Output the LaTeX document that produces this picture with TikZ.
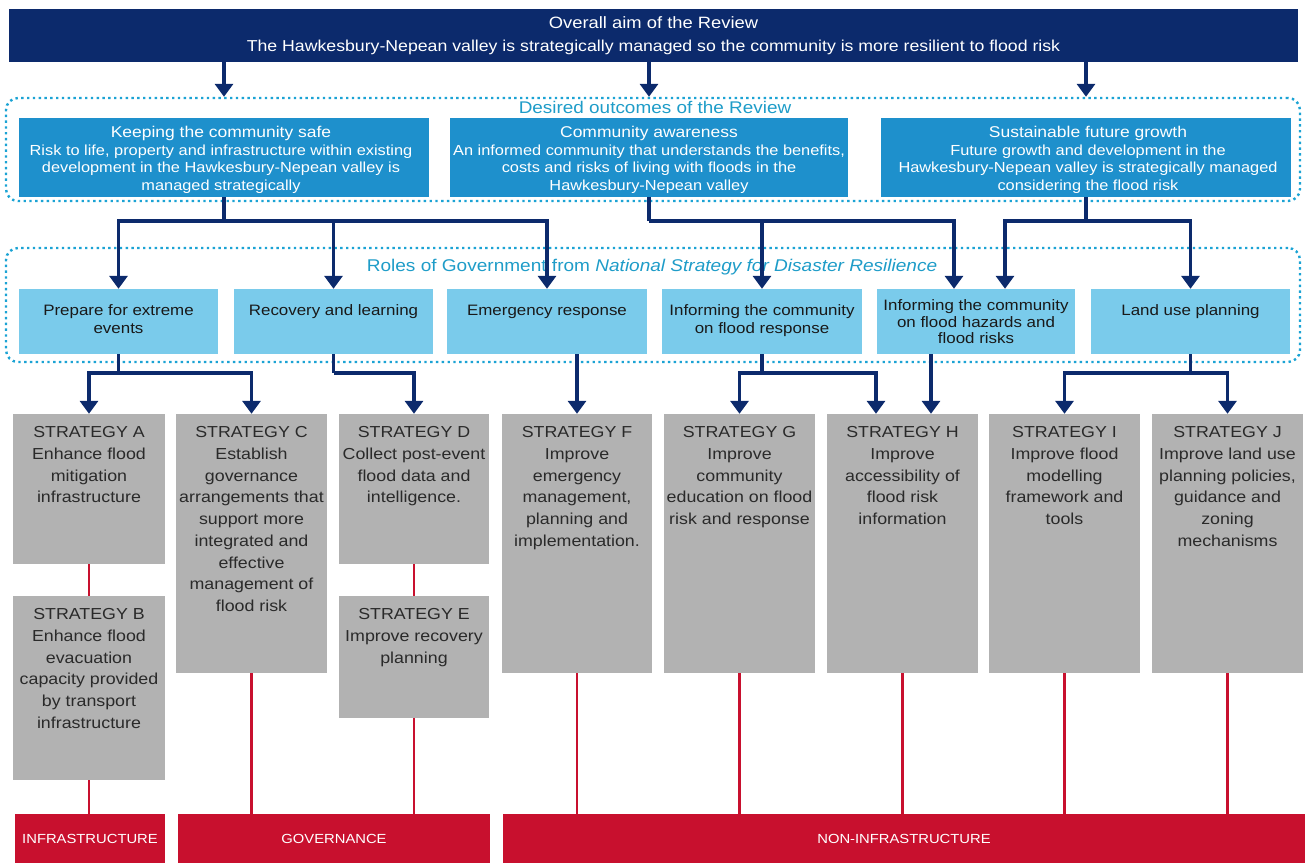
\documentclass[tikz,border=0pt]{standalone}
\usepackage{fontspec}
\setmainfont{Liberation Sans}[FakeStretch=1.12]
\usetikzlibrary{arrows.meta}
\definecolor{navy}{HTML}{0C2A6C}
\definecolor{outblue}{HTML}{1E90CC}
\definecolor{roleblue}{HTML}{7ACBEB}
\definecolor{dotcol}{HTML}{1BA3D4}
\definecolor{labelteal}{HTML}{1E9CC8}
\definecolor{sgray}{HTML}{B2B2B2}
\definecolor{stxt}{HTML}{2A2A2A}
\definecolor{redbar}{HTML}{C8102E}
\begin{document}
\begin{tikzpicture}[x=1pt,y=-1pt,
  dotbox/.style={draw=dotcol, line width=2.4pt, dash pattern=on 2.4pt off 3.4pt, rounded corners=12pt, inner sep=0pt},
  bannerbox/.style={fill=navy, text=white, inner sep=0pt, align=center, font=\fontsize{15.8}{23}\selectfont},
  outbox/.style={fill=outblue, text=white, inner sep=0pt, align=center, font=\fontsize{14.6}{17.5}\selectfont},
  outtext/.style={inner sep=0pt, align=center, text=white, font=\fontsize{14.6}{17.5}\selectfont},
  rolebox/.style={fill=roleblue, inner sep=0pt, minimum height=65pt},
  roletext/.style={inner sep=0pt, align=center, anchor=north, text=black!90, font=\fontsize{15.1}{18}\selectfont},
  stratbox/.style={fill=sgray, inner sep=0pt},
  strattext/.style={inner sep=0pt, align=center, anchor=north, text=stxt, font=\fontsize{15.9}{21.7}\selectfont},
  catbox/.style={fill=redbar, text=white, inner sep=0pt, minimum height=49pt, font=\fontsize{13.2}{15}\selectfont},
  grouplabel/.style={text=labelteal, inner sep=0pt},
  link/.style={draw=navy, line width=3.5pt},
  arr/.style={draw=navy, line width=3.5pt, -{Triangle[width=18pt,length=13pt]}},
  redl/.style={draw=redbar, line width=2.5pt}
]
\useasboundingbox (0,0) rectangle (1306,863);

% dotted groups
\node[dotbox, minimum width=1294pt, minimum height=103pt] (outgrp) at (653,149.5) {};
\node[dotbox, minimum width=1294pt, minimum height=114pt] (rolegrp) at (653,305) {};
\node[grouplabel, font=\fontsize{16.9}{19}\selectfont] (outlbl) at (655,107) {Desired outcomes of the Review};
\node[grouplabel, font=\fontsize{17}{19}\selectfont] (rolelbl) at (652,267) {Roles of Government from \textit{National Strategy for Disaster Resilience}};

% banner
\node[bannerbox, minimum width=1289pt, minimum height=53pt] (banner) at (653.5,35.5)
  {{\fontsize{16.4}{23}\selectfont Overall aim of the Review}\\
   The Hawkesbury-Nepean valley is strategically managed so the community is more resilient to flood risk};

% outcomes
\node[outbox, minimum width=410pt, minimum height=79pt] (ks) at (224,157.5) {};
\node[outbox, minimum width=398pt, minimum height=79pt] (ca) at (649,157.5) {};
\node[outbox, minimum width=410pt, minimum height=79pt] (sg) at (1086,157.5) {};
\node[outtext] (tks) at (221,160)
  {{\fontsize{15.6}{17.5}\selectfont Keeping the community safe}\\Risk to life, property and infrastructure within existing\\development in the Hawkesbury-Nepean valley is\\managed strategically};
\node[outtext] (tca) at (649,160)
  {{\fontsize{15.6}{17.5}\selectfont Community awareness}\\An informed community that understands the benefits,\\costs and risks of living with floods in the\\Hawkesbury-Nepean valley};
\node[outtext] (tsg) at (1088,160)
  {{\fontsize{15.6}{17.5}\selectfont Sustainable future growth}\\Future growth and development in the\\Hawkesbury-Nepean valley is strategically managed\\considering the flood risk};

% roles
\node[rolebox, minimum width=199pt] (prep) at (118.5,321.5) {};
\node[rolebox, minimum width=199pt] (rec) at (333.5,321.5) {};
\node[rolebox, minimum width=200pt] (em) at (547,321.5) {};
\node[rolebox, minimum width=200pt] (ir) at (762,321.5) {};
\node[rolebox, minimum width=198pt] (hz) at (976,321.5) {};
\node[rolebox, minimum width=199pt] (lu) at (1190.5,321.5) {};
\node[roletext] (tprep) at (118.5,304.5) {Prepare for extreme\\events};
\node[roletext] (trec) at (333.5,304.5) {Recovery and learning};
\node[roletext] (tem) at (547,304.5) {Emergency response};
\node[roletext] (tir) at (762,304.5) {Informing the community\\on flood response};
\node[roletext, font=\fontsize{15.1}{16.5}\selectfont] (thz) at (976,299.5) {Informing the community\\on flood hazards and\\flood risks};
\node[roletext] (tlu) at (1190.5,304.5) {Land use planning};

% strategies
\node[stratbox, minimum width=152pt, minimum height=150pt] (sA) at (89,489) {};
\node[stratbox, minimum width=152pt, minimum height=184pt] (sB) at (89,688) {};
\node[stratbox, minimum width=151pt, minimum height=259pt] (sC) at (251.5,543.5) {};
\node[stratbox, minimum width=150pt, minimum height=150pt] (sD) at (414,489) {};
\node[stratbox, minimum width=150pt, minimum height=122pt] (sE) at (414,657) {};
\node[stratbox, minimum width=150pt, minimum height=259pt] (sF) at (577,543.5) {};
\node[stratbox, minimum width=151pt, minimum height=259pt] (sG) at (739.5,543.5) {};
\node[stratbox, minimum width=151pt, minimum height=259pt] (sH) at (902.5,543.5) {};
\node[stratbox, minimum width=151pt, minimum height=259pt] (sI) at (1064.5,543.5) {};
\node[stratbox, minimum width=151pt, minimum height=259pt] (sJ) at (1227.5,543.5) {};
\node[strattext] (tA) at (89,426.5) {STRATEGY A\\Enhance flood\\mitigation\\infrastructure};
\node[strattext] (tB) at (89,608.5) {STRATEGY B\\Enhance flood\\evacuation\\capacity provided\\by transport\\infrastructure};
\node[strattext] (tC) at (251.5,426.5) {STRATEGY C\\Establish\\governance\\arrangements that\\support more\\integrated and\\effective\\management of\\flood risk};
\node[strattext] (tD) at (414,426.5) {STRATEGY D\\Collect post-event\\flood data and\\intelligence.};
\node[strattext] (tE) at (414,608.5) {STRATEGY E\\Improve recovery\\planning};
\node[strattext] (tF) at (577,426.5) {STRATEGY F\\Improve\\emergency\\management,\\planning and\\implementation.};
\node[strattext] (tG) at (739.5,426.5) {STRATEGY G\\Improve\\community\\education on flood\\risk and response};
\node[strattext] (tH) at (902.5,426.5) {STRATEGY H\\Improve\\accessibility of\\flood risk\\information};
\node[strattext] (tI) at (1064.5,426.5) {STRATEGY I\\Improve flood\\modelling\\framework and\\tools};
\node[strattext] (tJ) at (1227.5,426.5) {STRATEGY J\\Improve land use\\planning policies,\\guidance and\\zoning\\mechanisms};

% categories
\node[catbox, minimum width=150pt] (infra) at (90,838.5) {INFRASTRUCTURE};
\node[catbox, minimum width=312pt] (gov) at (334,838.5) {GOVERNANCE};
\node[catbox, minimum width=802pt] (non) at (904,838.5) {NON-INFRASTRUCTURE};

% helper coordinates
\coordinate (upbar) at (0,221);
\coordinate (lowbar) at (0,373);
\coordinate (hzL) at (954,0);
\coordinate (hzR) at (1005,0);
\coordinate (hA) at (876,0);
\coordinate (hB) at (931,0);

% aim -> outcomes
\draw[arr] (banner.south -| ks) -- (outgrp.north -| ks);
\draw[arr] (banner.south -| ca) -- (outgrp.north -| ca);
\draw[arr] (banner.south -| sg) -- (outgrp.north -| sg);

% outcomes -> roles
\draw[link] (ks.south) -- (ks.south |- upbar);
\draw[arr] (ks.south |- upbar) -| (prep.north);
\draw[arr] (ks.south |- upbar) -| (rec.north);
\draw[arr] (ks.south |- upbar) -| (em.north);
\draw[link] (ca.south) -- (ca.south |- upbar);
\draw[arr] (ca.south |- upbar) -| (ir.north);
\draw[arr] (ca.south |- upbar) -| (hz.north -| hzL);
\draw[link] (sg.south) -- (sg.south |- upbar);
\draw[arr] (sg.south |- upbar) -| (hz.north -| hzR);
\draw[arr] (sg.south |- upbar) -| (lu.north);

% roles -> strategies
\draw[link] (prep.south) -- (prep.south |- lowbar);
\draw[arr] (prep.south |- lowbar) -| (sA.north);
\draw[arr] (prep.south |- lowbar) -| (sC.north);
\draw[link] (rec.south) -- (rec.south |- lowbar);
\draw[arr] (rec.south |- lowbar) -| (sD.north);
\draw[arr] (em.south -| sF) -- (sF.north);
\draw[link] (ir.south) -- (ir.south |- lowbar);
\draw[arr] (ir.south |- lowbar) -| (sG.north);
\draw[arr] (ir.south |- lowbar) -| (sH.north -| hA);
\draw[arr] (hz.south -| hB) -- (sH.north -| hB);
\draw[link] (lu.south) -- (lu.south |- lowbar);
\draw[arr] (lu.south |- lowbar) -| (sI.north);
\draw[arr] (lu.south |- lowbar) -| (sJ.north);

% strategies -> categories
\draw[redl] (sA.south) -- (sB.north);
\draw[redl] (sB.south) -- (infra.north -| sB.south);
\draw[redl] (sC.south) -- (gov.north -| sC.south);
\draw[redl] (sD.south) -- (sE.north);
\draw[redl] (sE.south) -- (gov.north -| sE.south);
\draw[redl] (sF.south) -- (non.north -| sF.south);
\draw[redl] (sG.south) -- (non.north -| sG.south);
\draw[redl] (sH.south) -- (non.north -| sH.south);
\draw[redl] (sI.south) -- (non.north -| sI.south);
\draw[redl] (sJ.south) -- (non.north -| sJ.south);
\end{tikzpicture}
\end{document}
